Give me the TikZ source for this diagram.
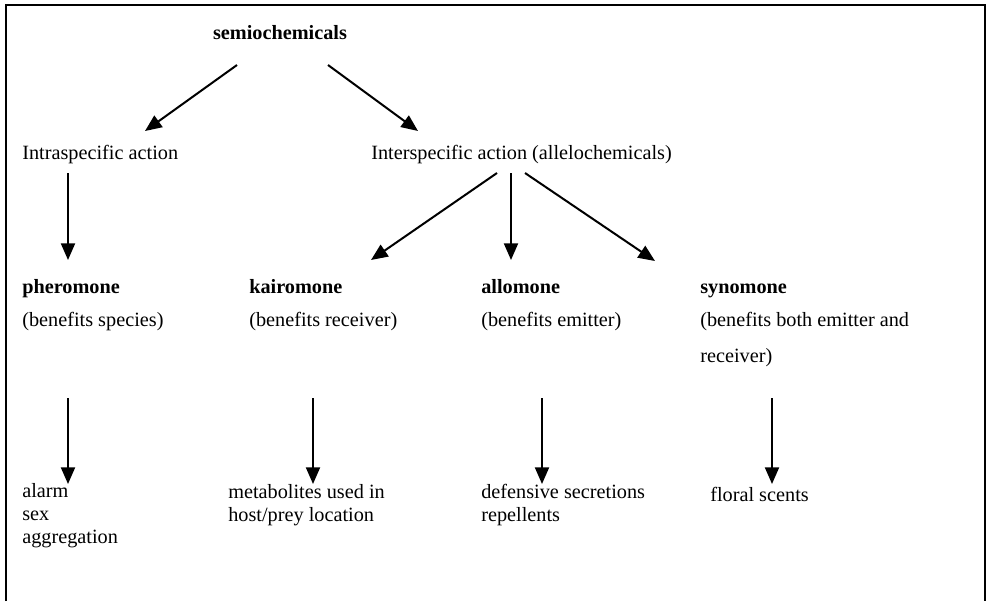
\documentclass[tikz,border=0pt]{standalone}
\usepackage{fontspec}
\setmainfont{Liberation Serif}
\usetikzlibrary{arrows.meta, calc}

\begin{document}
\begin{tikzpicture}[
    x=0.75pt, y=-0.75pt,
    lbl/.style={anchor=west, inner sep=0pt, align=left,
                font=\fontsize{15.2pt}{17.3pt}\selectfont},
    head/.style={lbl, anchor=base west,
                 font=\fontsize{15.2pt}{17.3pt}\selectfont\bfseries},
    wide/.style={lbl, font=\fontsize{15.2pt}{27pt}\selectfont},
    arr/.style={-{Triangle[length=12.5pt, width=10.5pt]}, line width=1.5pt},
    frame/.style={line width=1.4pt}
  ]
    \useasboundingbox (0,0) rectangle (992,601);
    \draw[frame] (6,601) -- (6,5) -- (985,5) -- (985,601);

    % top levels
    \node[head, anchor=center] (semio) at (280,33) {semiochemicals};
    \node[lbl] (intra) at (22,155) {Intraspecific action};
    \node[lbl] (inter) at (371,155) {Interspecific action (allelochemicals)};

    % chemical classes
    \node[head] (phero) at (22,293) {pheromone};
    \node[lbl] (pheroben) at (22,322) {(benefits species)};
    \node[head] (kairo) at (249,293) {kairomone};
    \node[lbl] (kairoben) at (249,322) {(benefits receiver)};
    \node[head] (allo) at (481,293) {allomone};
    \node[lbl] (alloben) at (481,322) {(benefits emitter)};
    \node[head] (syno) at (700,293) {synomone};
    \node[wide] (synoben) at (700,340) {(benefits both emitter and\\receiver)};

    % examples
    \node[lbl] (alarm) at (22,516) {alarm\\sex\\aggregation};
    \node[lbl] (metab) at (228,505) {metabolites used in\\host/prey location};
    \node[lbl] (defens) at (481,505) {defensive secretions\\repellents};
    \node[lbl] (floral) at (710,494) {floral scents};

    \draw[arr] ($(semio)+(-43,32)$) -- ($(intra.west)+(123,-24)$);
    \draw[arr] ($(semio)+(48,32)$) -- ($(inter.west)+(47,-24)$);
    \draw[arr] ($(intra.west)+(46,18)$) -- ($(phero.base west)+(46,-33)$);
    \draw[arr] ($(inter.west)+(126,18)$) -- ($(kairo.base west)+(122,-33)$);
    \draw[arr] ($(inter.west)+(140,18)$) -- ($(allo.base west)+(30,-33)$);
    \draw[arr] ($(inter.west)+(154,18)$) -- ($(syno.base west)+(-45,-32)$);

    \draw[arr] ($(pheroben.west)+(46,76)$) -- ($(alarm.west)+(46,-32)$);
    \draw[arr] ($(kairoben.west)+(64,76)$) -- ($(metab.west)+(85,-21)$);
    \draw[arr] ($(alloben.west)+(61,76)$) -- ($(defens.west)+(61,-21)$);
    \draw[arr] ($(synoben.west)+(72,58)$) -- ($(floral.west)+(62,-10)$);
\end{tikzpicture}
\end{document}
